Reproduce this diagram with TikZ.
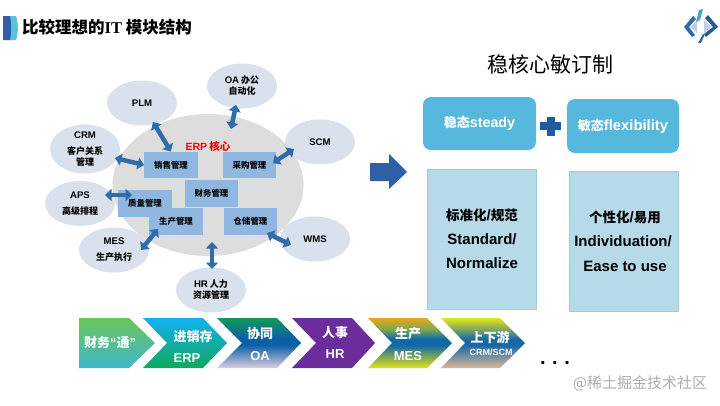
\documentclass[tikz,border=0pt]{standalone}
\usepackage{fontspec}
\setmainfont{Noto Sans CJK SC}
\newfontfamily\latfam{Liberation Sans}
\newfontfamily\latserif{Liberation Serif}
\newcommand{\lat}[2][]{{\ifx\relax#1\relax\else\fontsize{#1}{#1}\selectfont\fi\latfam #2}}
\usetikzlibrary{shapes.geometric,arrows.meta}
\definecolor{satfill}{HTML}{D8E1EC}
\definecolor{corefill}{HTML}{DDDDDD}
\definecolor{boxfill}{HTML}{8FB7E0}
\definecolor{connblue}{HTML}{2F6CA9}
\definecolor{topbox}{HTML}{55B8DC}
\definecolor{lowbox}{HTML}{B6DAE8}
\definecolor{lowline}{HTML}{9FCBDA}
\definecolor{plusblue}{HTML}{1F5BA3}
\definecolor{bigarrow}{HTML}{2D60A8}
\definecolor{lilac}{HTML}{C4CCE2}
\definecolor{barlight}{HTML}{5EC0E0}
\definecolor{cA}{HTML}{6CC55C}\definecolor{cB}{HTML}{3FB6C8}
\definecolor{dA}{HTML}{12B2F2}\definecolor{dB}{HTML}{10A85C}
\definecolor{eA}{HTML}{109A58}\definecolor{eB}{HTML}{0B5FA6}\definecolor{eC}{HTML}{DCCDE0}
\definecolor{fA}{HTML}{6B2C9C}
\definecolor{gA}{HTML}{E8A81C}\definecolor{gB}{HTML}{0F68AA}\definecolor{gC}{HTML}{E2E21E}\definecolor{gD}{HTML}{7FA850}
\definecolor{hA}{HTML}{E6E614}\definecolor{hB}{HTML}{1868A8}\definecolor{hC}{HTML}{DAB99A}\definecolor{hD}{HTML}{7FA860}
\pgfdeclareverticalshading{shgreen}{100bp}{color(0bp)=(cB);color(25bp)=(cB);color(75bp)=(cA);color(100bp)=(cA)}
\pgfdeclareverticalshading{shblue}{100bp}{color(0bp)=(dB);color(25bp)=(dB);color(75bp)=(dA);color(100bp)=(dA)}
\pgfdeclareverticalshading{shoa}{100bp}{color(0bp)=(eC);color(25bp)=(eC);color(48bp)=(eB);color(55bp)=(eB);color(75bp)=(eA);color(100bp)=(eA)}
\pgfdeclareverticalshading{shmes}{100bp}{color(0bp)=(gC);color(25bp)=(gC);color(36bp)=(gD);color(48bp)=(gB);color(54bp)=(gB);color(64bp)=(gD);color(75bp)=(gA);color(100bp)=(gA)}
\pgfdeclareverticalshading{shcrm}{100bp}{color(0bp)=(hC);color(25bp)=(hC);color(48bp)=(hB);color(54bp)=(hB);color(64bp)=(hD);color(75bp)=(hA);color(100bp)=(hA)}
\tikzset{
  sat/.style={ellipse,fill=satfill,minimum width=70pt,minimum height=45pt,inner sep=0pt,align=center,font=\fontsize{9}{11}\selectfont\bfseries,text=black},
  modbox/.style={fill=boxfill,minimum width=53.5pt,minimum height=26.5pt,inner sep=0pt,font=\fontsize{8.4}{10}\selectfont\bfseries,text=black},
  conn/.style={draw=connblue,line width=4.5pt,{Triangle[length=6.5pt,width=12pt]}-{Triangle[length=6.5pt,width=12pt]}},
  topb/.style={fill=topbox,rounded corners=8pt,inner sep=0pt,text=white,font=\fontsize{13}{15}\selectfont\bfseries},
  lowb/.style={fill=lowbox,draw=lowline,line width=.6pt,inner sep=0pt},
  lowtxt/.style={font=\fontsize{13.5}{15}\selectfont\bfseries,text=black,inner sep=0pt},
  chevtxt/.style={text=white,font=\fontsize{13}{15}\selectfont\bfseries,inner sep=0pt},
}
\begin{document}
\begin{tikzpicture}[x=1pt,y=-1pt]
\useasboundingbox (0,0) rectangle (720,405);
\fill[white] (0,0) rectangle (720,405);
% title
\fill[barlight] (9,16) -- (16,16) .. controls (18.5,24) and (18.5,32) .. (16,40) -- (9,40) -- cycle;
\fill[bigarrow] (3,16) -- (10,16) .. controls (11.5,24) and (11.5,32) .. (10,40) -- (3,40) -- cycle;
\node[anchor=west,inner sep=0pt,font=\fontsize{16.5}{18}\selectfont\bfseries] (title) at (22,27) {比较理想的{\latserif IT} 模块结构};
% logo
\fill[connblue] (693,16) -- (696,19) -- (689,27) -- (695,35) -- (692,37) -- (684,27) -- cycle;
\fill[connblue!85!black] (708,15) -- (718,27) -- (706,37) -- (704,34) -- (713,27) -- (705,18) -- cycle;
\fill[lilac] (697,20) -- (690.5,27) -- (697,33) -- cycle;
\fill[lilac] (704,20) -- (711,27) -- (704,33) -- cycle;
\fill[topbox!70!connblue] (699,10) -- (703,9) -- (700,20) -- (696,22) -- cycle;
\fill[connblue] (703,34) -- (705,34) -- (701,43) -- (698,43) -- cycle;
% core
\node[ellipse,fill=corefill,minimum width=191pt,minimum height=142pt,inner sep=0pt] (core) at (208,185) {};
\node[text=red,inner sep=0pt,font=\fontsize{10.5}{12}\selectfont\bfseries] (erp) at (208,146) {\lat{ERP} 核心};
% module boxes
\node[modbox] (sales) at (171,165) {销售管理};
\node[modbox] (purchase) at (249.5,165) {采购管理};
\node[modbox] (finance) at (211.5,193.5) {财务管理};
\node[modbox] (quality) at (145,203.5) {质量管理};
\node[modbox] (production) at (176,221.5) {生产管理};
\node[modbox] (warehouse) at (250.5,221.5) {仓储管理};
% satellites
\node[sat] (plm) at (142,103) {\lat[9.6]{PLM}};
\node[sat] (oa) at (242,86) {\lat[9.6]{OA} 办公\\自动化};
\node[sat] (crm) at (85,149) {\lat[9.6]{CRM}\\[5pt]客户关系\\管理};
\node[sat] (scm) at (320,142) {\lat[9.6]{SCM}};
\node[sat] (aps) at (80,203.5) {\lat[9.6]{APS}\\[5pt]高级排程};
\node[sat] (mes) at (114,250) {\lat[9.6]{MES}\\[5pt]生产执行};
\node[sat] (wms) at (315,239) {\lat[9.6]{WMS}};
\node[sat] (hr) at (211,290) {\lat[9.6]{HR} 人力\\资源管理};
% connector free ends
\coordinate (plmA) at (153,122);
\coordinate (oaA) at (236,105);
\coordinate (oaB) at (231,129);
\coordinate (crmA) at (115,158);
\coordinate (scmA) at (294,149);
\coordinate (scmB) at (273,163);
\coordinate (apsA) at (105,195);
\coordinate (apsB) at (132,195);
\coordinate (mesA) at (141,250);
\coordinate (mesB) at (158,229);
\coordinate (wmsA) at (291,245);
\coordinate (wmsB) at (267,233);
\coordinate (hrA) at (212,269);
\coordinate (hrB) at (212,242);
\draw[conn] (plmA) -- (sales.north);
\draw[conn] (oaA) -- (oaB);
\draw[conn] (crmA) -- (sales.west);
\draw[conn] (scmA) -- (scmB);
\draw[conn] (apsA) -- (apsB);
\draw[conn] (mesA) -- (mesB);
\draw[conn] (wmsA) -- (wmsB);
\draw[conn] (hrA) -- (hrB);
% big arrow and plus
\fill[bigarrow] (370,163) -- (389,163) -- (389,154) -- (407,172) -- (389,189) -- (389,181) -- (370,181) -- cycle;
\fill[plusblue] (547,117) rectangle (555,136);
\fill[plusblue] (540,122) rectangle (561,130);
% right part
\node[inner sep=0pt,font=\fontsize{21}{24}\selectfont,text=black] (rtitle) at (550,64) {稳核心敏订制};
\node[topb,minimum width=113pt,minimum height=53pt] (steady) at (479.5,123.5) {稳态\lat[14.3]{steady}};
\node[topb,minimum width=112pt,minimum height=54pt] (flex) at (623,126) {敏态\lat[14.8]{flexibility}};
\node[lowb,minimum width=109pt,minimum height=140pt] (std) at (481.5,239) {};
\node[lowb,minimum width=109pt,minimum height=140pt] (ind) at (623.5,241) {};
\node[lowtxt] (s1) at (482,215) {标准化\lat[15]{/}规范};
\node[lowtxt] (s2) at (482,239) {\lat[15]{Standard/}};
\node[lowtxt] (s3) at (482,263) {\lat[15]{Normalize}};
\node[lowtxt] (i1) at (625,217) {个性化\lat[15]{/}易用};
\node[lowtxt] (i2) at (623,241) {\lat[15]{Individuation/}};
\node[lowtxt] (i3) at (625,266) {\lat[15]{Ease to use}};
% chevrons
\shade[shading=shgreen] (79,318) -- (129,318) -- (155,343) -- (129,368) -- (79,368) -- cycle;
\shade[shading=shblue] (143,318) -- (203,318) -- (227,343) -- (203,368) -- (143,368) -- (167,343) -- cycle;
\shade[shading=shoa] (217,318) -- (277,318) -- (301,343) -- (277,368) -- (217,368) -- (242,343) -- cycle;
\fill[fA] (292,318) -- (352,318) -- (375,343) -- (352,368) -- (292,368) -- (316,343) -- cycle;
\shade[shading=shmes] (368,318) -- (427,318) -- (452,343) -- (427,368) -- (368,368) -- (392,343) -- cycle;
\shade[shading=shcrm] (441,318) -- (500,318) -- (525,343) -- (500,368) -- (441,368) -- (465,343) -- cycle;
\node[chevtxt] (c1) at (110,343) {财务\lat{“}通\lat{”}};
\node[chevtxt] (c2a) at (193,337) {进销存};
\node[chevtxt] (c2b) at (187,358) {\lat{ERP}};
\node[chevtxt] (c3a) at (260,334) {协同};
\node[chevtxt] (c3b) at (260,356) {\lat{OA}};
\node[chevtxt] (c4a) at (335,333) {人事};
\node[chevtxt] (c4b) at (335,354) {\lat{HR}};
\node[chevtxt] (c5a) at (408,334) {生产};
\node[chevtxt] (c5b) at (408,356) {\lat{MES}};
\node[chevtxt] (c6a) at (490,337) {上下游};
\node[chevtxt,font=\fontsize{9}{10}\selectfont\bfseries] (c6b) at (491,352) {\lat{CRM/SCM}};
\node[inner sep=0pt,font=\fontsize{20}{24}\selectfont\bfseries,anchor=base] (dots) at (555,364) {\lat{.\kern6.5pt.\kern6.5pt.}};
\node[inner sep=0pt,text=black!32,font=\fontsize{15}{17}\selectfont] (mark) at (640,383) {@稀土掘金技术社区};
\end{tikzpicture}
\end{document}
